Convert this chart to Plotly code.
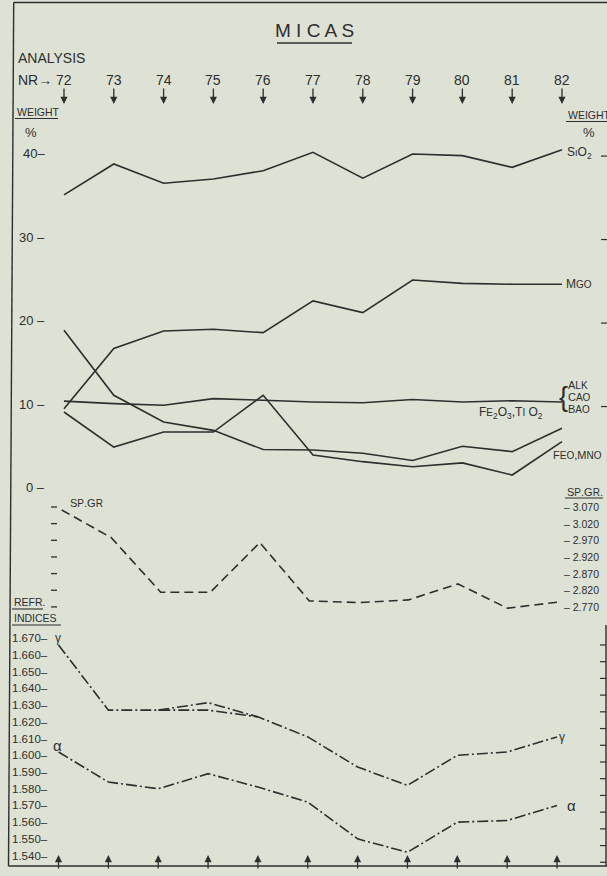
import plotly.graph_objects as go

# ---------------- data ----------------
analysis = [72, 73, 74, 75, 76, 77, 78, 79, 80, 81, 82]
sio2 = [35.1, 38.8, 36.5, 37.0, 38.0, 40.2, 37.1, 40.0, 39.8, 38.4, 40.5]
mgo = [9.5, 16.7, 18.8, 19.0, 18.6, 22.4, 21.0, 24.9, 24.5, 24.4, 24.4]
alk_cao_bao = [10.4, 10.1, 9.9, 10.7, 10.5, 10.3, 10.2, 10.6, 10.3, 10.45, 10.3]
fe2o3_tio2 = [18.9, 11.1, 7.9, 6.9, 4.6, 4.55, 4.15, 3.3, 5.0, 4.35, 7.15]
feo_mno = [9.1, 4.9, 6.7, 6.7, 11.1, 3.95, 3.15, 2.55, 3.0, 1.55, 5.55]
sp_gr = [3.061, 2.978, 2.814, 2.814, 2.963, 2.788, 2.783, 2.791, 2.839, 2.766, 2.784]
gamma = [1.666, 1.627, 1.627, 1.627, 1.623, 1.611, 1.593, 1.582, 1.600, 1.602, 1.611]
gamma_alt_x = [74, 75, 76]
gamma_alt = [1.627, 1.6315, 1.623]
alpha = [1.602, 1.584, 1.580, 1.589, 1.581, 1.572, 1.550, 1.542, 1.560, 1.561, 1.570]

weight_ticks = [40, 30, 20, 10, 0]
spgr_ticks = [3.070, 3.020, 2.970, 2.920, 2.870, 2.820, 2.770]
refr_ticks = [1.670, 1.660, 1.650, 1.640, 1.630, 1.620, 1.610, 1.600,
              1.590, 1.580, 1.570, 1.560, 1.550, 1.540]

# ---------------- style ----------------
W, H = 607, 876
BG = "#dde2d5"
INK = "#2e2e2e"
FONT = "Liberation Sans, Arial, sans-serif"
LW = 1.6


def px(x):
    return x / W


def py(y):
    return 1 - y / H


def ann(text, x, y, size=11, xanchor="left", yanchor="middle"):
    return dict(text=text, x=px(x), y=py(y), xref="paper", yref="paper",
                showarrow=False, xanchor=xanchor, yanchor=yanchor,
                font=dict(size=size, color=INK, family=FONT))


def sc(big, small, size=10):
    return f"{big}<span style='font-size:{size}px'>{small}</span>"


fig = go.Figure()

# weight % lines
for vals in [sio2, mgo, alk_cao_bao, fe2o3_tio2, feo_mno]:
    fig.add_trace(go.Scatter(x=analysis, y=vals, mode="lines", xaxis="x", yaxis="y",
                             line=dict(color=INK, width=LW), hoverinfo="skip"))

# specific gravity
fig.add_trace(go.Scatter(x=analysis, y=sp_gr, mode="lines", xaxis="x3", yaxis="y2",
                         line=dict(color=INK, width=LW, dash="9px,5px"), hoverinfo="skip"))

# refractive indices
dd = "11px,3px,2px,3px"
fig.add_trace(go.Scatter(x=analysis, y=gamma, mode="lines", xaxis="x2", yaxis="y3",
                         line=dict(color=INK, width=LW, dash=dd), hoverinfo="skip"))
fig.add_trace(go.Scatter(x=gamma_alt_x, y=gamma_alt, mode="lines", xaxis="x2", yaxis="y3",
                         line=dict(color=INK, width=LW, dash=dd), hoverinfo="skip"))
fig.add_trace(go.Scatter(x=analysis, y=alpha, mode="lines", xaxis="x2", yaxis="y3",
                         line=dict(color=INK, width=LW, dash=dd), hoverinfo="skip"))

annotations = []
shapes = []


def hline(x0, x1, y, width=1.2):
    shapes.append(dict(type="line", xref="paper", yref="paper",
                       x0=px(x0), x1=px(x1), y0=py(y), y1=py(y),
                       line=dict(color=INK, width=width)))


def seg(x0, y0, x1, y1, width=1.4):
    shapes.append(dict(type="line", xref="paper", yref="paper",
                       x0=px(x0), y0=py(y0), x1=px(x1), y1=py(y1),
                       line=dict(color=INK, width=width)))


# frame
seg(13.5, 2.5, 607, 2.5)
seg(13.7, 2.5, 8.5, 866)
seg(8.5, 866, 607, 866)
seg(606, 625, 606, 866)

# title
annotations.append(ann("M I C A S", 314, 30, size=19, xanchor="center"))
hline(277, 352, 43, width=1.4)

# header
annotations.append(ann("ANALYSIS", 16, 58, size=14))
annotations.append(ann("NR\u2192", 16, 80, size=14))
for a in analysis:
    annotations.append(dict(text=str(a), x=a, xref="x", y=py(80), yref="paper",
                            showarrow=False, xanchor="center", yanchor="middle",
                            font=dict(size=14, color=INK, family=FONT)))
    annotations.append(dict(text="", x=a, xref="x", y=py(104), yref="paper",
                            showarrow=True, ax=0, ay=-17, arrowhead=2, arrowsize=1.1,
                            arrowwidth=1.3, arrowcolor=INK))
    annotations.append(dict(text="", x=a, xref="x2", y=py(855), yref="paper",
                            showarrow=True, ax=0, ay=15, arrowhead=2, arrowsize=1.1,
                            arrowwidth=1.3, arrowcolor=INK))

# weight labels
annotations.append(ann("WEIGHT", 15, 112, size=10.5))
hline(15, 58, 118.5, width=1.1)
annotations.append(ann("%", 31, 133, size=13, xanchor="center"))
annotations.append(ann("WEIGHT", 566, 115, size=10.5))
hline(566, 607, 121.5, width=1.1)
annotations.append(ann("%", 589, 133, size=13, xanchor="center"))

for v in weight_ticks:
    t = f"{v}\u2013" if v == 40 else f"{v} \u2013"
    annotations.append(dict(text=t, x=px(47), xref="paper", y=v, yref="y",
                            showarrow=False, xanchor="right", yanchor="middle",
                            font=dict(size=13, color=INK, family=FONT)))
    if v > 0:
        shapes.append(dict(type="line", xref="paper", yref="y", x0=px(601), x1=px(607),
                           y0=v - 0.25, y1=v - 0.25, line=dict(color=INK, width=1.2)))

# series labels
annotations.append(ann("S<span style='font-size:9px'>I</span>O<sub>2</sub>", 565, 153, size=12))
annotations.append(ann(sc("M", "GO"), 564, 284, size=12))
annotations.append(ann("{", 557, 397, size=27))
annotations.append(ann(sc("A", "LK", 10), 566, 385.5, size=11))
annotations.append(ann(sc("C", "AO", 10), 566, 397, size=11))
annotations.append(ann(sc("B", "AO", 10), 566, 408.5, size=11))
annotations.append(ann(sc("F", "E") + "<sub>2</sub>O<sub>3</sub>,"
                       + sc("T", "I") + " O<sub>2</sub>", 477, 413, size=12))
annotations.append(ann(sc("F", "EO") + "," + sc("M", "NO"), 551, 455, size=11))

# specific gravity axis
annotations.append(ann(sc("S", "P") + "." + sc("G", "R") + ".", 565, 492, size=11))
hline(565, 603, 498, width=1.1)
annotations.append(ann(sc("S", "P") + "." + sc("G", "R"), 68, 503, size=11))
for v in spgr_ticks:
    annotations.append(dict(text=f"\u2013 {v:.3f}", x=px(562), xref="paper", y=v, yref="y2",
                            showarrow=False, xanchor="left", yanchor="middle",
                            font=dict(size=10.5, color=INK, family=FONT)))
    shapes.append(dict(type="line", xref="paper", yref="y2", x0=px(51), x1=px(57),
                       y0=v, y1=v, line=dict(color=INK, width=1.3)))

# refractive indices axis
annotations.append(ann("REFR.", 12, 602, size=10.5))
hline(12, 43, 609, width=1.1)
annotations.append(ann("INDICES", 12, 618, size=10.5))
hline(12, 61, 625, width=1.1)
for v in refr_ticks:
    annotations.append(dict(text=f"{v:.3f}\u2013", x=px(50), xref="paper", y=v, yref="y3",
                            showarrow=False, xanchor="right", yanchor="middle",
                            font=dict(size=11.5, color=INK, family=FONT)))
    # right-hand tick marks sit a little lower because the original sheet is tilted
    shapes.append(dict(type="line", xref="paper", yref="y3", x0=px(600), x1=px(606),
                       y0=v - 0.004, y1=v - 0.004, line=dict(color=INK, width=1.2)))

annotations.append(ann("\u03b3", 58, 638, size=12, xanchor="center"))
annotations.append(ann("\u03b1", 57, 745, size=15, xanchor="center"))
annotations.append(ann("\u03b3", 562, 737, size=12, xanchor="center"))
annotations.append(ann("\u03b1", 571, 805, size=15, xanchor="center"))

fig.update_layout(
    width=W, height=H,
    margin=dict(l=0, r=0, t=0, b=0),
    paper_bgcolor=BG, plot_bgcolor=BG,
    showlegend=False,
    xaxis=dict(domain=[0, 1], range=[70.715, 82.904], visible=False, fixedrange=True),
    xaxis2=dict(overlaying="x", range=[70.826, 83.003], visible=False, fixedrange=True),
    xaxis3=dict(overlaying="x", range=[70.754, 83.010], visible=False, fixedrange=True),
    yaxis=dict(domain=[0, 1], range=[-46.47, 58.44], visible=False, fixedrange=True),
    yaxis2=dict(overlaying="y", range=[1.9619, 4.5925], visible=False, fixedrange=True),
    yaxis3=dict(overlaying="y", range=[1.5278, 2.0518], visible=False, fixedrange=True),
    annotations=annotations,
    shapes=shapes,
)

fig.write_html("out.html")
